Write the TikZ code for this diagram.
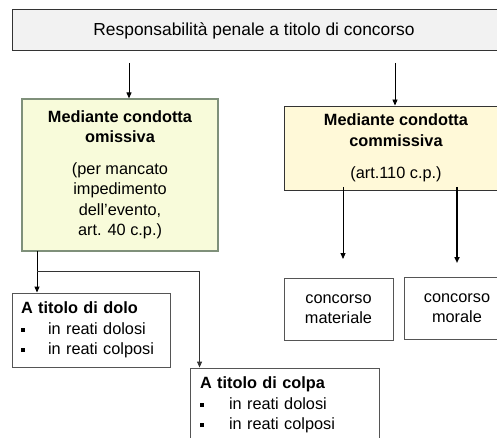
\documentclass[tikz,border=0pt]{standalone}
\usepackage{fontspec}
\setmainfont{Liberation Sans}
\usetikzlibrary{arrows.meta}
\definecolor{topfill}{HTML}{F2F2F2}
\definecolor{omisfill}{HTML}{F8FBDA}
\definecolor{omisline}{HTML}{7F907A}
\definecolor{commfill}{HTML}{FFF9D8}
\definecolor{darkline}{HTML}{333333}
\definecolor{boxline}{HTML}{555555}
\newcommand{\blt}{\makebox[27pt][l]{\rule[2.6pt]{4pt}{4pt}}}
\begin{document}
\begin{tikzpicture}[x=1pt,y=-1pt,
  box/.style={draw=boxline, line width=0.9pt, inner sep=0pt,
    font=\fontsize{16.3}{20.5}\selectfont, align=center},
  conn/.style={draw=black, line width=0.9pt, -{Triangle[length=6pt,width=5pt]}},
  thickconn/.style={conn, line width=1.8pt}]
\useasboundingbox (0,0) rectangle (497,438);

% top box
\node[box, draw=darkline, line width=1pt, fill=topfill, minimum width=492pt, minimum height=41pt] (top) at (258,30.5) {};
\node[font=\fontsize{17.4}{21}\selectfont, inner sep=0pt] (toptext) at (254,30.5) {Responsabilità penale a titolo di concorso};

% second level
\node[box, draw=omisline, line width=1.2pt, fill=omisfill, minimum width=196pt, minimum height=152pt] (omis) at (120,175)
  {\textbf{Mediante condotta}\\\textbf{omissiva}\\[11pt](per mancato\\impedimento\\dell’evento,\\art. 40 c.p.)};
\node[box, draw=darkline, fill=commfill, minimum width=224pt, minimum height=84pt] (comm) at (396,148)
  {\textbf{Mediante condotta}\\\textbf{commissiva}\\[12pt](art.110 c.p.)};

% concorso boxes
\node[box, fill=white, minimum width=109pt, minimum height=62pt] (mat) at (338.5,309) {concorso\\materiale};
\node[box, fill=white, minimum width=106pt, minimum height=62pt] (mor) at (457,308) {concorso\\morale};

% dolo / colpa
\node[box, fill=white, minimum width=158pt, minimum height=74pt, inner xsep=9pt, text width=140pt, align=left] (dolo) at (91,330)
  {\textbf{A titolo di dolo}\\\blt in reati dolosi\\\blt in reati colposi};
\node[box, fill=white, minimum width=189pt, minimum height=74pt, inner xsep=10pt, text width=169pt, align=left] (colpa) at (284.5,405)
  {\textbf{A titolo di colpa}\\\makebox[29pt][l]{\rule[2.6pt]{4pt}{4pt}}in reati dolosi\\\makebox[29pt][l]{\rule[2.6pt]{4pt}{4pt}}in reati colposi};

% connectors from top
\coordinate (t1) at (129,63);
\coordinate (t2) at (395,63);
\draw[conn] (t1) -- (t1 |- omis.north);
\draw[conn] (t2) -- (t2 |- comm.north);

% connectors from commissiva
\coordinate (c1) at (343,187);
\coordinate (c1e) at (343,259);
\coordinate (c2) at (457,187);
\coordinate (c2e) at (457,263);
\draw[conn] (c1) -- (c1e);
\draw[thickconn] (c2) -- (c2e);

% connectors from omissiva
\coordinate (o1) at (37,251);
\coordinate (o2) at (37,271);
\draw[conn] (o1) -- (o1 |- dolo.north);
\draw[conn, draw=darkline] (o2) -| ([xshift=10pt]colpa.north west);
\end{tikzpicture}
\end{document}
